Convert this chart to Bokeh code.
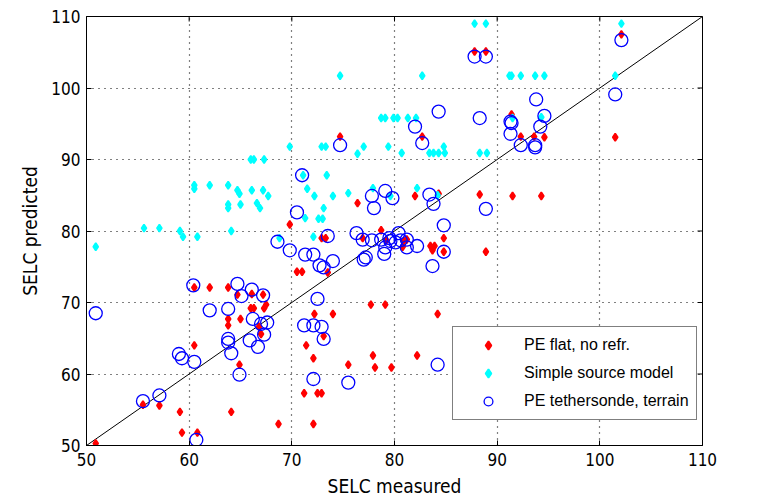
from bokeh.plotting import figure
from bokeh.models import Legend, LegendItem, FixedTicker
from bokeh.embed import file_html
from bokeh.resources import INLINE

# PE flat, no refr. (red diamonds)
red_x = [50.9, 55.5, 57.1, 59.1, 59.3, 60.8, 60.5, 60.5, 62.0, 63.8, 64.7, 66.1, 67.2, 66.0, 66.3, 67.3,
         67.5, 63.8, 63.8, 65.0, 66.8, 67.0, 64.9, 64.1, 68.7, 69.8, 70.5, 71.0, 73.5, 72.9, 73.3, 76.9,
         78.7, 79.2, 80.9, 80.8, 81.2, 83.5, 83.9, 83.7, 84.8, 84.8, 88.9, 77.7, 79.1, 72.2, 74.0, 84.2,
         73.1, 71.4, 72.1, 77.9, 82.2, 75.5, 78.1, 79.7, 71.2, 72.5, 72.9, 72.1, 74.7, 82.7, 76.4, 82.0,
         84.3, 88.3, 87.8, 88.9, 102.1, 101.5, 91.4, 92.3, 93.6, 94.6, 91.5, 94.3]
red_y = [50.3, 55.7, 55.6, 54.7, 51.8, 51.8, 64.0, 72.1, 72.1, 72.1, 71.1, 71.2, 71.1, 69.2, 69.2, 69.2,
         69.7, 67.7, 66.8, 67.7, 66.6, 65.6, 61.3, 54.7, 53.0, 80.9, 74.3, 74.3, 74.2, 79.0, 79.0, 79.0,
         80.1, 78.7, 78.6, 77.8, 78.8, 77.9, 77.9, 77.3, 79.0, 77.1, 77.1, 69.7, 69.7, 68.4, 68.4, 68.4,
         65.3, 64.0, 62.2, 62.6, 62.6, 61.3, 60.9, 60.9, 57.3, 57.3, 57.3, 53.0, 93.2, 93.2, 83.9, 84.9,
         85.2, 85.1, 105.1, 105.1, 107.5, 93.1, 96.3, 93.2, 93.2, 93.1, 84.9, 84.9]

# Simple source model (cyan diamonds)
cyan_x = [50.9, 55.6, 57.1, 59.1, 59.4, 60.8, 64.1, 68.8, 60.5, 60.5, 62.0, 63.8, 64.7, 64.9, 66.1, 67.2,
          67.7, 63.8, 63.8, 65.0, 66.6, 66.9, 66.0, 66.3, 67.3, 69.8, 87.8, 88.9, 74.7, 82.7, 78.7, 79.1,
          79.9, 80.3, 81.3, 82.1, 72.9, 73.3, 76.4, 77.0, 79.4, 80.7, 83.4, 83.8, 84.3, 84.9, 84.8, 88.3,
          89.0, 91.2, 71.1, 73.4, 71.5, 72.2, 73.1, 74.0, 75.5, 71.3, 72.6, 73.0, 77.9, 79.6, 82.2, 84.2,
          72.1, 102.1, 91.4, 92.3, 93.7, 94.6, 101.5, 91.5, 94.3]
cyan_y = [77.8, 80.4, 80.4, 80.0, 79.2, 79.2, 80.0, 79.0, 86.4, 85.9, 86.4, 86.4, 85.7, 85.2, 85.7, 85.7,
          84.9, 83.7, 83.2, 83.7, 83.9, 83.2, 90.0, 90.0, 90.0, 91.8, 109.0, 109.0, 101.7, 101.7, 95.8, 95.8,
          95.8, 95.8, 95.8, 95.8, 91.8, 91.8, 90.8, 91.8, 91.8, 90.9, 90.9, 90.9, 90.9, 90.9, 91.8, 90.9,
          90.9, 101.7, 87.8, 87.8, 85.9, 84.9, 83.2, 84.9, 85.3, 81.8, 81.7, 81.7, 86.0, 84.9, 86.0, 85.0,
          79.2, 109.0, 101.7, 101.7, 101.7, 101.7, 101.7, 95.8, 95.9]

# PE tethersonde, terrain (blue circles)
blue_x = [50.9, 60.4, 62.0, 63.8, 64.7, 65.1, 66.1, 67.2, 66.2, 67.0, 67.6, 67.3, 65.9, 66.7, 63.8, 63.8,
          64.1, 59.0, 59.3, 60.5, 64.9, 55.5, 57.1, 60.7, 68.6, 69.8, 71.0, 70.5, 87.8, 88.9, 74.7, 82.7,
          82.0, 84.3, 88.3, 91.3, 91.3, 77.8, 79.1, 79.8, 78.0, 83.4, 83.8, 88.9, 84.8, 73.5, 76.3, 71.3,
          72.1, 72.7, 73.1, 74.0, 77.0, 77.8, 78.7, 79.1, 79.0, 79.6, 80.4, 80.6, 81.2, 81.2, 82.2, 80.1,
          79.5, 83.7, 84.8, 72.5, 71.2, 72.1, 72.9, 73.1, 72.1, 75.5, 84.2, 102.1, 101.5, 93.8, 91.4, 94.6,
          94.2, 92.3, 93.7, 93.7, 76.9, 77.2]
blue_y = [68.5, 72.4, 68.9, 69.1, 72.6, 70.9, 71.8, 71.0, 67.7, 67.0, 67.2, 65.5, 64.7, 63.8, 64.9, 64.4,
          62.9, 62.8, 62.2, 61.7, 59.9, 56.2, 57.0, 50.8, 78.5, 77.3, 87.8, 82.6, 104.4, 104.4, 92.0, 92.3,
          94.6, 96.7, 95.8, 95.3, 93.6, 84.9, 85.6, 84.6, 83.2, 85.1, 83.8, 83.1, 80.8, 79.3, 79.7, 76.7,
          76.7, 75.2, 74.9, 75.8, 76.0, 78.7, 78.8, 77.7, 76.8, 78.6, 79.7, 78.7, 78.8, 77.7, 77.9, 78.4,
          79.0, 75.1, 77.1, 70.5, 66.8, 66.8, 66.6, 64.9, 59.3, 58.8, 61.3, 106.7, 99.1, 98.4, 95.1, 96.1,
          94.6, 92.0, 92.0, 91.7, 78.8, 76.3]

diag_x = [50, 110]
diag_y = [50, 110]
ticks = [50, 60, 70, 80, 90, 100, 110]
labels = ["PE flat, no refr.", "Simple source model", "PE tethersonde, terrain"]

FONT = "Liberation Sans"
TICK_FONT = "'Liberation Sans Narrow', 'DejaVu Sans Condensed', 'Liberation Sans', sans-serif"

XMIN, XMAX, YMIN, YMAX = 50, 110, 50, 110
p = figure(width=760, height=504, x_range=(XMIN, XMAX), y_range=(YMIN, YMAX),
           output_backend="svg", toolbar_location=None,
           min_border_left=86, min_border_right=58, min_border_top=16, min_border_bottom=59)
p.background_fill_color = "white"
p.border_fill_color = "white"
p.outline_line_color = "black"
p.outline_line_width = 1

for ax in (p.xaxis[0], p.yaxis[0]):
    ax.ticker = FixedTicker(ticks=ticks)
    ax.major_tick_in = 5
    ax.major_tick_out = 0
    ax.minor_tick_in = 0
    ax.minor_tick_out = 0
    ax.axis_line_color = "black"
    ax.major_label_text_font = TICK_FONT
    ax.major_label_text_font_size = "17px"
    ax.major_label_text_color = "black"
    ax.axis_label_text_font = TICK_FONT
    ax.axis_label_text_font_size = "19px"
    ax.axis_label_text_font_style = "normal"
    ax.axis_label_text_color = "black"
p.xaxis.axis_label = "SELC measured"
p.yaxis.axis_label = "SELC predicted"
p.xaxis.major_label_standoff = 7
p.yaxis.major_label_standoff = 6
p.xaxis.axis_label_standoff = 6
p.yaxis.axis_label_standoff = 7

p.xgrid.ticker = FixedTicker(ticks=ticks)
p.ygrid.ticker = FixedTicker(ticks=ticks)
for g in (p.xgrid[0], p.ygrid[0]):
    g.grid_line_color = "black"
    g.grid_line_dash = "1 5"
    g.grid_line_width = 1.2

# box ticks on the top and right edges (5 px long, inside)
tx = (XMAX - XMIN) / 616 * 5
ty = (YMAX - YMIN) / 429 * 5
p.segment(x0=ticks, y0=[YMAX] * len(ticks), x1=ticks, y1=[YMAX - ty] * len(ticks),
          line_color="black", line_width=1)
p.segment(x0=[XMAX] * len(ticks), y0=ticks, x1=[XMAX - tx] * len(ticks), y1=ticks,
          line_color="black", line_width=1)

p.line(diag_x, diag_y, line_color="black", line_width=1)

r_red = p.scatter(red_x, red_y, marker="diamond", size=7.5, fill_color="red", line_color="red",
                  line_width=1.7)
r_cyan = p.scatter(cyan_x, cyan_y, marker="diamond", size=7.5, fill_color="cyan", line_color="cyan",
                   line_width=1.7)
r_blue = p.scatter(blue_x, blue_y, marker="circle", size=13, fill_color=None,
                   line_color="blue", line_width=1.3)

legend = Legend(items=[LegendItem(label=labels[0], renderers=[r_red]),
                       LegendItem(label=labels[1], renderers=[r_cyan]),
                       LegendItem(label=labels[2], renderers=[r_blue])],
                location=(366, 25))
legend.border_line_color = "black"
legend.border_line_width = 1
legend.background_fill_color = "white"
legend.background_fill_alpha = 1
legend.label_text_font = FONT
legend.label_text_font_size = "16px"
legend.label_text_color = "black"
legend.padding = 7
legend.spacing = 6
legend.label_height = 22
legend.glyph_height = 22
legend.glyph_width = 56
legend.label_standoff = 8
legend.margin = 0
p.add_layout(legend, "center")

open("out.html", "w").write(file_html(p, INLINE))
